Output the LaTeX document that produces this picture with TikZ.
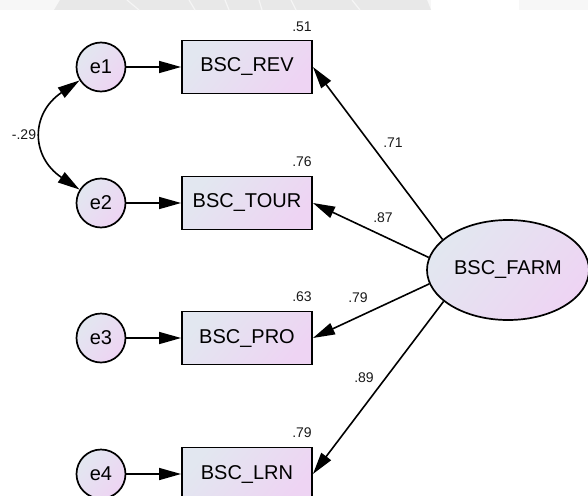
\documentclass[tikz,border=0pt]{standalone}
\usepackage{fontspec}
\setmainfont{Liberation Sans}
\usetikzlibrary{arrows.meta,shapes.geometric}
\definecolor{fillL}{RGB}{226,231,240}
\definecolor{fillR}{RGB}{238,212,243}
\begin{document}
\begin{tikzpicture}[x=1pt,y=-1pt,
  shade/.style={left color=fillL, right color=fillR, shading angle=50},
  obs/.style={draw=black, line width=1.9pt, minimum width=130pt, minimum height=53pt, inner sep=0pt,
    shade, font=\fontsize{20}{24}\selectfont},
  err/.style={circle, draw=black, line width=1.7pt, minimum size=49pt, inner sep=0pt,
    shade, font=\fontsize{20}{24}\selectfont},
  lat/.style={ellipse, draw=black, line width=1.7pt, minimum width=162pt, minimum height=100pt, inner sep=0pt,
    shade, font=\fontsize{20}{24}\selectfont},
  load/.style={line width=1.6pt, -{Triangle[length=22pt,width=12pt]}},
  cov/.style={line width=1.6pt, {Triangle[length=22pt,width=12pt]}-{Triangle[length=22pt,width=12pt]}},
  lbl/.style={font=\fontsize{14}{16}\selectfont, inner sep=0pt, text=black!90}
]
\useasboundingbox (0,0) rectangle (588,495);
% faint header band
\fill[black!3] (0,0) rectangle (588,10);
\fill[white] (431,0) rectangle (519,10);
\fill[black!9] (60,0) -- (427,0) -- (431,10) -- (54,10) -- cycle;
\foreach \a/\b in {127/139, 189/195, 225/229, 259/262, 291/296, 352/360}
  \draw[black!4, line width=1.2pt] (\a,0) -- (\b,10);

% observed variables
\node[obs] (rev)  at (247,67)  {BSC\_REV};
\node[obs] (tour) at (247,203) {BSC\_TOUR};
\node[obs] (pro)  at (247,338) {BSC\_PRO};
\node[obs] (lrn)  at (247,474) {BSC\_LRN};
% errors
\node[err] (e1) at (101,67)  {e1};
\node[err] (e2) at (101,203) {e2};
\node[err] (e3) at (101,338) {e3};
\node[err] (e4) at (101,474) {e4};
% latent
\node[lat] (farm) at (508,270) {BSC\_FARM};

% squared multiple correlations
\node[lbl] (r1) at (302,27)  {.51};
\node[lbl] (r2) at (302,162) {.76};
\node[lbl] (r3) at (302,297) {.63};
\node[lbl] (r4) at (302,433) {.79};
% loadings
\node[lbl] (w1) at (393,143) {.71};
\node[lbl] (w2) at (383,218) {.87};
\node[lbl] (w3) at (358,298) {.79};
\node[lbl] (w4) at (364,378) {.89};
\node[lbl] (c12) at (24,135) {-.29};

% error paths
\draw[load] (e1) -- (rev);
\draw[load] (e2) -- (tour);
\draw[load] (e3) -- (pro);
\draw[load] (e4) -- (lrn);
% factor loadings
\draw[load] (farm.155) -- (rev.east);
\draw[load] (farm.171) -- (tour.east);
\draw[load] (farm.190) -- (pro.east);
\draw[load] (farm.206) -- (lrn.east);
% covariance
\draw[cov] (e1.212) .. controls +(-49,33) and +(-49,-33) .. (e2.148);
\end{tikzpicture}
\end{document}
